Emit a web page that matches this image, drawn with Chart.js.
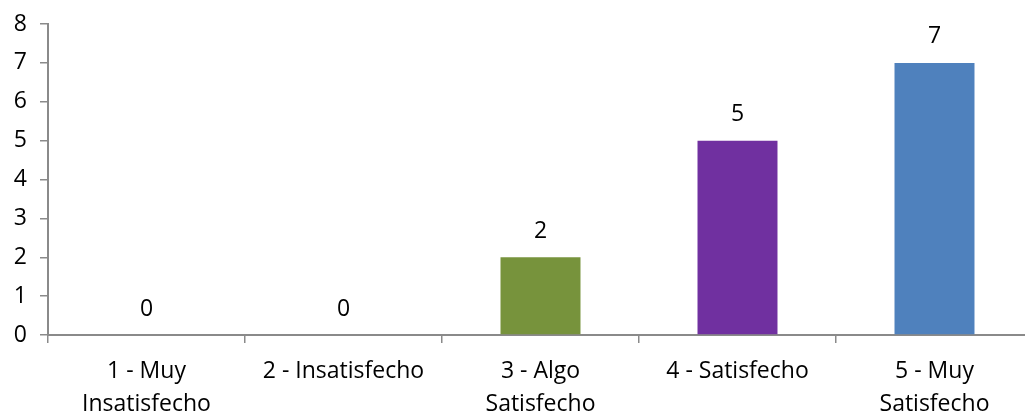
<!DOCTYPE html>
<html><head><meta charset="utf-8">
<style>
html,body{margin:0;padding:0;overflow:hidden;background:#fff;width:1025px;height:412px}
#wrap{position:absolute;left:0;top:0;width:1034px;height:430px}
</style>
<script src="https://cdn.jsdelivr.net/npm/chart.js@4"></script>
</head><body><div id="wrap"><canvas id="c" width="1034" height="430"></canvas></div>
<script>
const categories = [["1 - Muy","Insatisfecho"], "2 - Insatisfecho", ["3 - Algo","Satisfecho"], "4 - Satisfecho", ["5 - Muy","Satisfecho"]];
const values = [0, 0, 2, 5, 7];
const barColors = ['#C0504D', '#F79646', '#77933C', '#7030A0', '#4F81BD'];
const yTicks = [0, 1, 2, 3, 4, 5, 6, 7, 8];

const FONT = "'Open Sans', sans-serif";
const axisGrey = '#8a8a8a';

const valueLabels = {
  id: 'valueLabels',
  afterDatasetsDraw(chart) {
    const ctx = chart.ctx;
    const meta = chart.getDatasetMeta(0);
    ctx.save();
    ctx.font = "23px " + FONT;
    ctx.fillStyle = '#000';
    ctx.textAlign = 'center';
    ctx.textBaseline = 'middle';
    meta.data.forEach((bar, i) => {
      ctx.fillText(String(values[i]), bar.x, bar.y - 26);
    });
    ctx.restore();
  }
};

new Chart(document.getElementById('c'), {
  type: 'bar',
  data: {
    labels: categories,
    datasets: [{
      data: values,
      backgroundColor: barColors,
      borderWidth: 0,
      categoryPercentage: 1,
      barPercentage: 0.406
    }]
  },
  options: {
    responsive: false,
    animation: false,
    devicePixelRatio: 1,
    layout: { padding: { top: 24, right: 1, left: 0, bottom: 0 } },
    plugins: { legend: { display: false }, tooltip: { enabled: false } },
    scales: {
      x: {
        afterFit(scale) { scale.height = 95; },
        grid: { offset: true, drawOnChartArea: false, drawTicks: true, tickLength: 8, color: axisGrey, lineWidth: 1.5 },
        border: { color: axisGrey, width: 2 },
        ticks: { font: { family: FONT, size: 23, lineHeight: 1.42 }, color: '#000', padding: 12, maxRotation: 0, autoSkip: false }
      },
      y: {
        min: yTicks[0],
        max: yTicks[yTicks.length - 1],
        afterFit(scale) { scale.width = 48; scale.paddingTop = 0; scale.paddingBottom = 0; },
        afterBuildTicks(scale) { scale.ticks = yTicks.map(v => ({ value: v })); },
        grid: { drawOnChartArea: false, drawTicks: true, tickLength: 8, color: axisGrey, lineWidth: 1.5 },
        border: { color: axisGrey, width: 2 },
        ticks: { font: { family: FONT, size: 23, lineHeight: 0.8 }, color: '#000', padding: 13 }
      }
    }
  },
  plugins: [valueLabels]
});
</script>
</body></html>
